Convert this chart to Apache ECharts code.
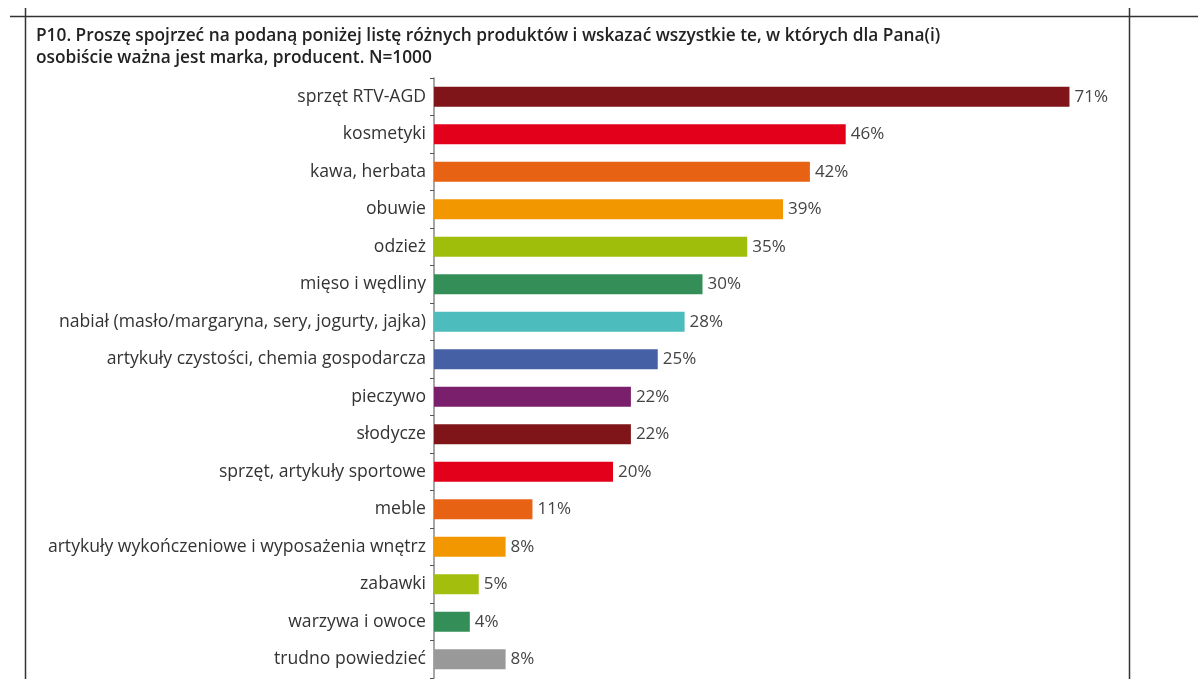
<!DOCTYPE html>
<html>
<head>
<meta charset="utf-8">
<script src="https://cdn.jsdelivr.net/npm/echarts@6/dist/echarts.min.js"></script>
<style>
  html, body { margin: 0; padding: 0; background: #fff; }
  #chart { width: 1198px; height: 679px; }
</style>
</head>
<body>
<div id="chart"></div>
<script>
// Products for which the brand / producer matters (share of respondents, %)
const categories = [
  'sprzęt RTV-AGD',
  'kosmetyki',
  'kawa, herbata',
  'obuwie',
  'odzież',
  'mięso i wędliny',
  'nabiał (masło/margaryna, sery, jogurty, jajka)',
  'artykuły czystości, chemia gospodarcza',
  'pieczywo',
  'słodycze',
  'sprzęt, artykuły sportowe',
  'meble',
  'artykuły wykończeniowe i wyposażenia wnętrz',
  'zabawki',
  'warzywa i owoce',
  'trudno powiedzieć'
];
const values = [71, 46, 42, 39, 35, 30, 28, 25, 22, 22, 20, 11, 8, 5, 4, 8];
const barColors = [
  '#7f1518', '#e2001a', '#e86214', '#f29700', '#9fbe0c', '#338f57',
  '#4dbcbc', '#4660a6', '#7a1f6c', '#7f1518', '#e2001a', '#e86214',
  '#f29700', '#a3be0c', '#338f57', '#999999'
];
const titleLines = [
  'P10. Proszę spojrzeć na podaną poniżej listę różnych produktów i wskazać wszystkie te, w których dla Pana(i)',
  'osobiście ważna jest marka, producent. N=1000'
];

const font = '"Open Sans", sans-serif';
const chart = echarts.init(document.getElementById('chart'), null, { renderer: 'canvas' });

chart.setOption({
  animation: false,
  backgroundColor: '#ffffff',
  title: {
    text: titleLines.join('\n'),
    left: 31,
    top: 20,
    textStyle: {
      fontFamily: font,
      fontSize: 17.3,
      fontWeight: 600,
      color: '#222',
      lineHeight: 22
    }
  },
  grid: { left: 434, right: 48, top: 78, bottom: 1, containLabel: false },
  xAxis: {
    type: 'value',
    min: 0,
    max: 80,
    show: false
  },
  yAxis: {
    type: 'category',
    data: categories,
    inverse: true,
    axisLine: { show: true, lineStyle: { color: '#8a8a8a', width: 1.5 } },
    axisTick: { show: true, length: 4, lineStyle: { color: '#555', width: 1 } },
    axisLabel: {
      margin: 8,
      fontFamily: font,
      fontSize: 17.6,
      color: '#333'
    }
  },
  series: [{
    type: 'bar',
    data: values.map((v, i) => ({ value: v, itemStyle: { color: barColors[i] } })),
    barWidth: 20,
    label: {
      show: true,
      position: 'right',
      distance: 5,
      formatter: p => p.value + '%',
      fontFamily: font,
      fontSize: 17,
      color: '#444'
    }
  }],
  graphic: [
    { type: 'line', shape: { x1: 10, y1: 16.5, x2: 1198, y2: 16.5 }, style: { stroke: '#333', lineWidth: 1.5 } },
    { type: 'line', shape: { x1: 25.5, y1: 8, x2: 25.5, y2: 679 }, style: { stroke: '#333', lineWidth: 1.5 } },
    { type: 'line', shape: { x1: 1129.5, y1: 8, x2: 1129.5, y2: 679 }, style: { stroke: '#333', lineWidth: 1.5 } }
  ]
});
</script>
</body>
</html>
